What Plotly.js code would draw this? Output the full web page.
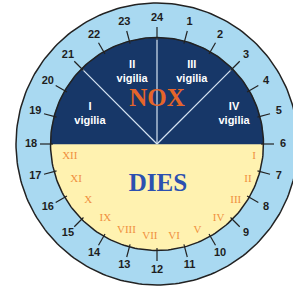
<!DOCTYPE html>
<html>
<head>
<meta charset="utf-8">
<script src="https://cdn.plot.ly/plotly-3.0.1.min.js"></script>
<style>html,body{margin:0;padding:0;background:#fff;}#chart{width:293px;height:287px;}</style>
</head>
<body>
<div id="chart"></div>
<script>
// ---- data ----
const hours = [1,2,3,4,5,6,7,8,9,10,11,12,13,14,15,16,17,18,19,20,21,22,23,24];
const hourLabels = ['1','2','3','4','5','6','7','8','9','10','11','12','13','14','15','16','17','18','19','20','21','22','23','24'];
const vigiliaNames = ['I','II','III','IV'];
const vigiliaStart = [18,21,24,27];   // hour at which each night watch begins
const vigiliaLength = [3,3,3,3];      // hours per watch
const dayHourNames = ['I','II','III','IV','V','VI','VII','VIII','IX','X','XI','XII'];
const dayHourStart = [6,7,8,9,10,11,12,13,14,15,16,17];
const nightTitle = ['NOX'];
const dayTitle = ['DIES'];

// ---- geometry / style ----
const R_OUT = 141, R_IN = 106.5;
const TICK_IN = 104, TICK_OUT = 117, LABEL_R = 126;
const TEXT_CX = 5, ROMAN_R = 93, VIG_R = 78;
const C_RING = '#a9d9f1', C_NIGHT = '#173768', C_DAY = '#fff2b0', C_EDGE = '#222222';

function pt(h, r, cx) {
  const a = h * 15 * Math.PI / 180;
  return [(cx || 0) + r * Math.sin(a), r * Math.cos(a)];
}
function arc(h0, h1, r, withCenter) {
  const xs = [], ys = [];
  if (withCenter) { xs.push(0); ys.push(0); }
  const n = Math.max(2, Math.round(Math.abs(h1 - h0) * 10));
  for (let i = 0; i <= n; i++) {
    const p = pt(h0 + (h1 - h0) * i / n, r);
    xs.push(p[0]); ys.push(p[1]);
  }
  if (withCenter) { xs.push(0); ys.push(0); }
  return {x: xs, y: ys};
}

const traces = [];
// outer disc (hour ring)
const outer = arc(0, 24, R_OUT, false);
traces.push({type:'scatter', mode:'lines', x: outer.x, y: outer.y, fill:'toself', fillcolor: C_RING,
  line:{color: C_EDGE, width: 1.5}, hoverinfo:'skip'});
// day half
const dStart = dayHourStart[0], dEnd = dayHourStart[dayHourStart.length-1] + 1;
const day = arc(dStart, dEnd, R_IN, true);
traces.push({type:'scatter', mode:'lines', x: day.x, y: day.y, fill:'toself', fillcolor: C_DAY,
  line:{width: 0, color: C_DAY}, hoverinfo:'skip'});
// night watches
vigiliaStart.forEach((s, i) => {
  const sec = arc(s, s + vigiliaLength[i], R_IN, true);
  traces.push({type:'scatter', mode:'lines', x: sec.x, y: sec.y, fill:'toself', fillcolor: C_NIGHT,
    line:{width: 0.5, color: C_NIGHT}, hoverinfo:'skip'});
});
// watch dividers
const dx = [], dy = [];
vigiliaStart.slice(1).forEach(s => { const p = pt(s, R_IN); dx.push(0, p[0], null); dy.push(0, p[1], null); });
traces.push({type:'scatter', mode:'lines', x: dx, y: dy, line:{color:'#d6e4f2', width: 1.2}, hoverinfo:'skip'});
// inner border
const inner = arc(0, 24, R_IN, false);
traces.push({type:'scatter', mode:'lines', x: inner.x, y: inner.y, line:{color: C_EDGE, width: 1.5}, hoverinfo:'skip'});
// hour ticks
const tx = [], ty = [];
hours.forEach(h => { const a = pt(h, TICK_IN), b = pt(h, TICK_OUT); tx.push(a[0], b[0], null); ty.push(a[1], b[1], null); });
traces.push({type:'scatter', mode:'lines', x: tx, y: ty, line:{color: C_EDGE, width: 1.2}, hoverinfo:'skip'});
// hour labels
traces.push({type:'scatter', mode:'text', x: hours.map(h => pt(h, LABEL_R)[0]), y: hours.map(h => pt(h, LABEL_R)[1]),
  text: hourLabels, textposition:'middle center', cliponaxis:false,
  textfont:{family:'Liberation Sans, Arial, sans-serif', size: 11, color:'#1e1e1e', weight:'bold'}, hoverinfo:'skip'});
// day hour roman numerals
traces.push({type:'scatter', mode:'text',
  x: dayHourStart.map(h => pt(h + 0.5, ROMAN_R, TEXT_CX)[0]), y: dayHourStart.map(h => pt(h + 0.5, ROMAN_R)[1]),
  text: dayHourNames, textposition:'middle center', cliponaxis:false,
  textfont:{family:'Liberation Serif, Times New Roman, serif', size: 11, color:'#f0903e'}, hoverinfo:'skip'});
// watch labels
traces.push({type:'scatter', mode:'text',
  x: vigiliaStart.map((s, i) => pt(s + vigiliaLength[i] / 2, VIG_R, TEXT_CX)[0]),
  y: vigiliaStart.map((s, i) => pt(s + vigiliaLength[i] / 2, VIG_R)[1]),
  text: vigiliaNames.map(n => n + '<br>vigilia'), textposition:'middle center', cliponaxis:false,
  textfont:{family:'Liberation Sans, Arial, sans-serif', size: 11, color:'#ffffff', weight:'bold'}, hoverinfo:'skip'});
// titles of halves
traces.push({type:'scatter', mode:'text', x:[0], y:[44], text: nightTitle, textposition:'middle center',
  textfont:{family:'Liberation Serif, Times New Roman, serif', size: 25, color:'#e5652a', weight:'bold'}, hoverinfo:'skip'});
traces.push({type:'scatter', mode:'text', x:[1], y:[-41], text: dayTitle, textposition:'middle center',
  textfont:{family:'Liberation Serif, Times New Roman, serif', size: 25, color:'#2c50b0', weight:'bold'}, hoverinfo:'skip'});

const layout = {
  width: 293, height: 287,
  margin:{l:0, r:0, t:0, b:0, pad:0},
  paper_bgcolor:'#ffffff', plot_bgcolor:'#ffffff',
  showlegend:false,
  xaxis:{range:[-157, 136], visible:false, fixedrange:true},
  yaxis:{range:[-143, 144], visible:false, fixedrange:true}
};
Plotly.newPlot('chart', traces, layout, {displayModeBar:false, staticPlot:true});
</script>
</body>
</html>
